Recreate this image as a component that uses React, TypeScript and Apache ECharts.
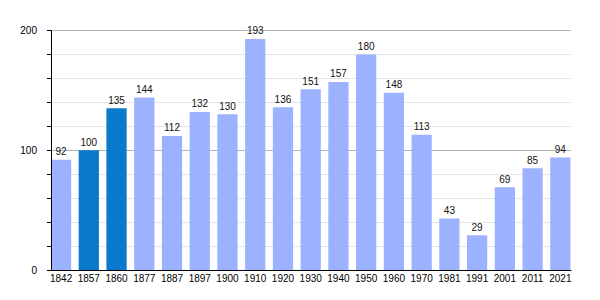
import React, { useEffect, useRef } from "react";
import * as echarts from "echarts";

const categories = ["1842", "1857", "1860", "1877", "1887", "1897", "1900", "1910", "1920", "1930", "1940", "1950", "1960", "1970", "1981", "1991", "2001", "2011", "2021"];
const population = [92, 100, 135, 144, 112, 132, 130, 193, 136, 151, 157, 180, 148, 113, 43, 29, 69, 85, 94];
const highlighted = ["1857", "1860"];
const yMin = 0;
const yMax = 200;
const yInterval = 100;

const LIGHT = "#9db2ff";
const DARK = "#0a7acc";
const FONT = "'Liberation Sans', Arial, sans-serif";

export default function App() {
  const ref = useRef<HTMLDivElement>(null);
  useEffect(() => {
    document.body.style.margin = "0";
    if (!ref.current) return;
    const chart = echarts.init(ref.current, undefined, { renderer: "svg" });
    chart.setOption({
      animation: false,
      backgroundColor: "#ffffff",
      textStyle: { fontFamily: FONT },
      grid: [
        { left: 47.2, right: 25.8, top: 30.5, bottom: 30 },
        { left: 51, right: 29, top: 30.5, bottom: 30 },
      ],
      xAxis: [
        {
          type: "category",
          gridIndex: 0,
          data: categories,
          axisLine: { show: false },
          axisTick: { show: false },
          axisLabel: { interval: 0, margin: 3, fontSize: 10, color: "#000", fontFamily: FONT },
        },
        {
          type: "category",
          gridIndex: 1,
          data: categories,
          axisLine: { show: true, onZero: false, lineStyle: { color: "#000", width: 1 } },
          axisTick: { show: false },
          axisLabel: { show: false },
          z: 5,
        },
      ],
      yAxis: [
        {
          type: "value",
          gridIndex: 0,
          min: yMin,
          max: yMax,
          interval: yInterval,
          show: false,
          splitLine: { show: false },
        },
        {
          type: "value",
          gridIndex: 1,
          min: yMin,
          max: yMax,
          interval: yInterval,
          axisLine: { show: false },
          axisTick: { show: false },
          axisLabel: { show: false },
          splitLine: { show: true, lineStyle: { color: "#b4b4b4", width: 1 } },
          minorTick: { show: false, splitNumber: 5 },
          minorSplitLine: { show: true, lineStyle: { color: "#e4e4e4", width: 1 } },
          z: 0,
        },
        {
          type: "value",
          gridIndex: 1,
          min: yMin,
          max: yMax,
          interval: yInterval,
          position: "left",
          offset: 0,
          axisLine: { show: true, onZero: false, lineStyle: { color: "#000", width: 1 } },
          axisTick: { show: true, length: 4, lineStyle: { color: "#000" } },
          minorTick: { show: true, splitNumber: 5, length: 4, lineStyle: { color: "#000" } },
          splitLine: { show: false },
          minorSplitLine: { show: false },
          axisLabel: { margin: 14, fontSize: 10, color: "#000", fontFamily: FONT },
          z: 5,
        },
      ],
      series: [
        {
          type: "bar",
          xAxisIndex: 0,
          yAxisIndex: 0,
          barWidth: "73%",
          data: population.map((v, i) => ({
            value: v,
            itemStyle: { color: highlighted.includes(categories[i]) ? DARK : LIGHT },
          })),
          label: {
            show: true,
            position: "top",
            distance: 3,
            fontSize: 10,
            color: "#111",
            fontFamily: FONT,
          },
          z: 2,
        },
      ],
    });
    return () => chart.dispose();
  }, []);
  return <div ref={ref} style={{ width: 600, height: 300 }} />;
}
